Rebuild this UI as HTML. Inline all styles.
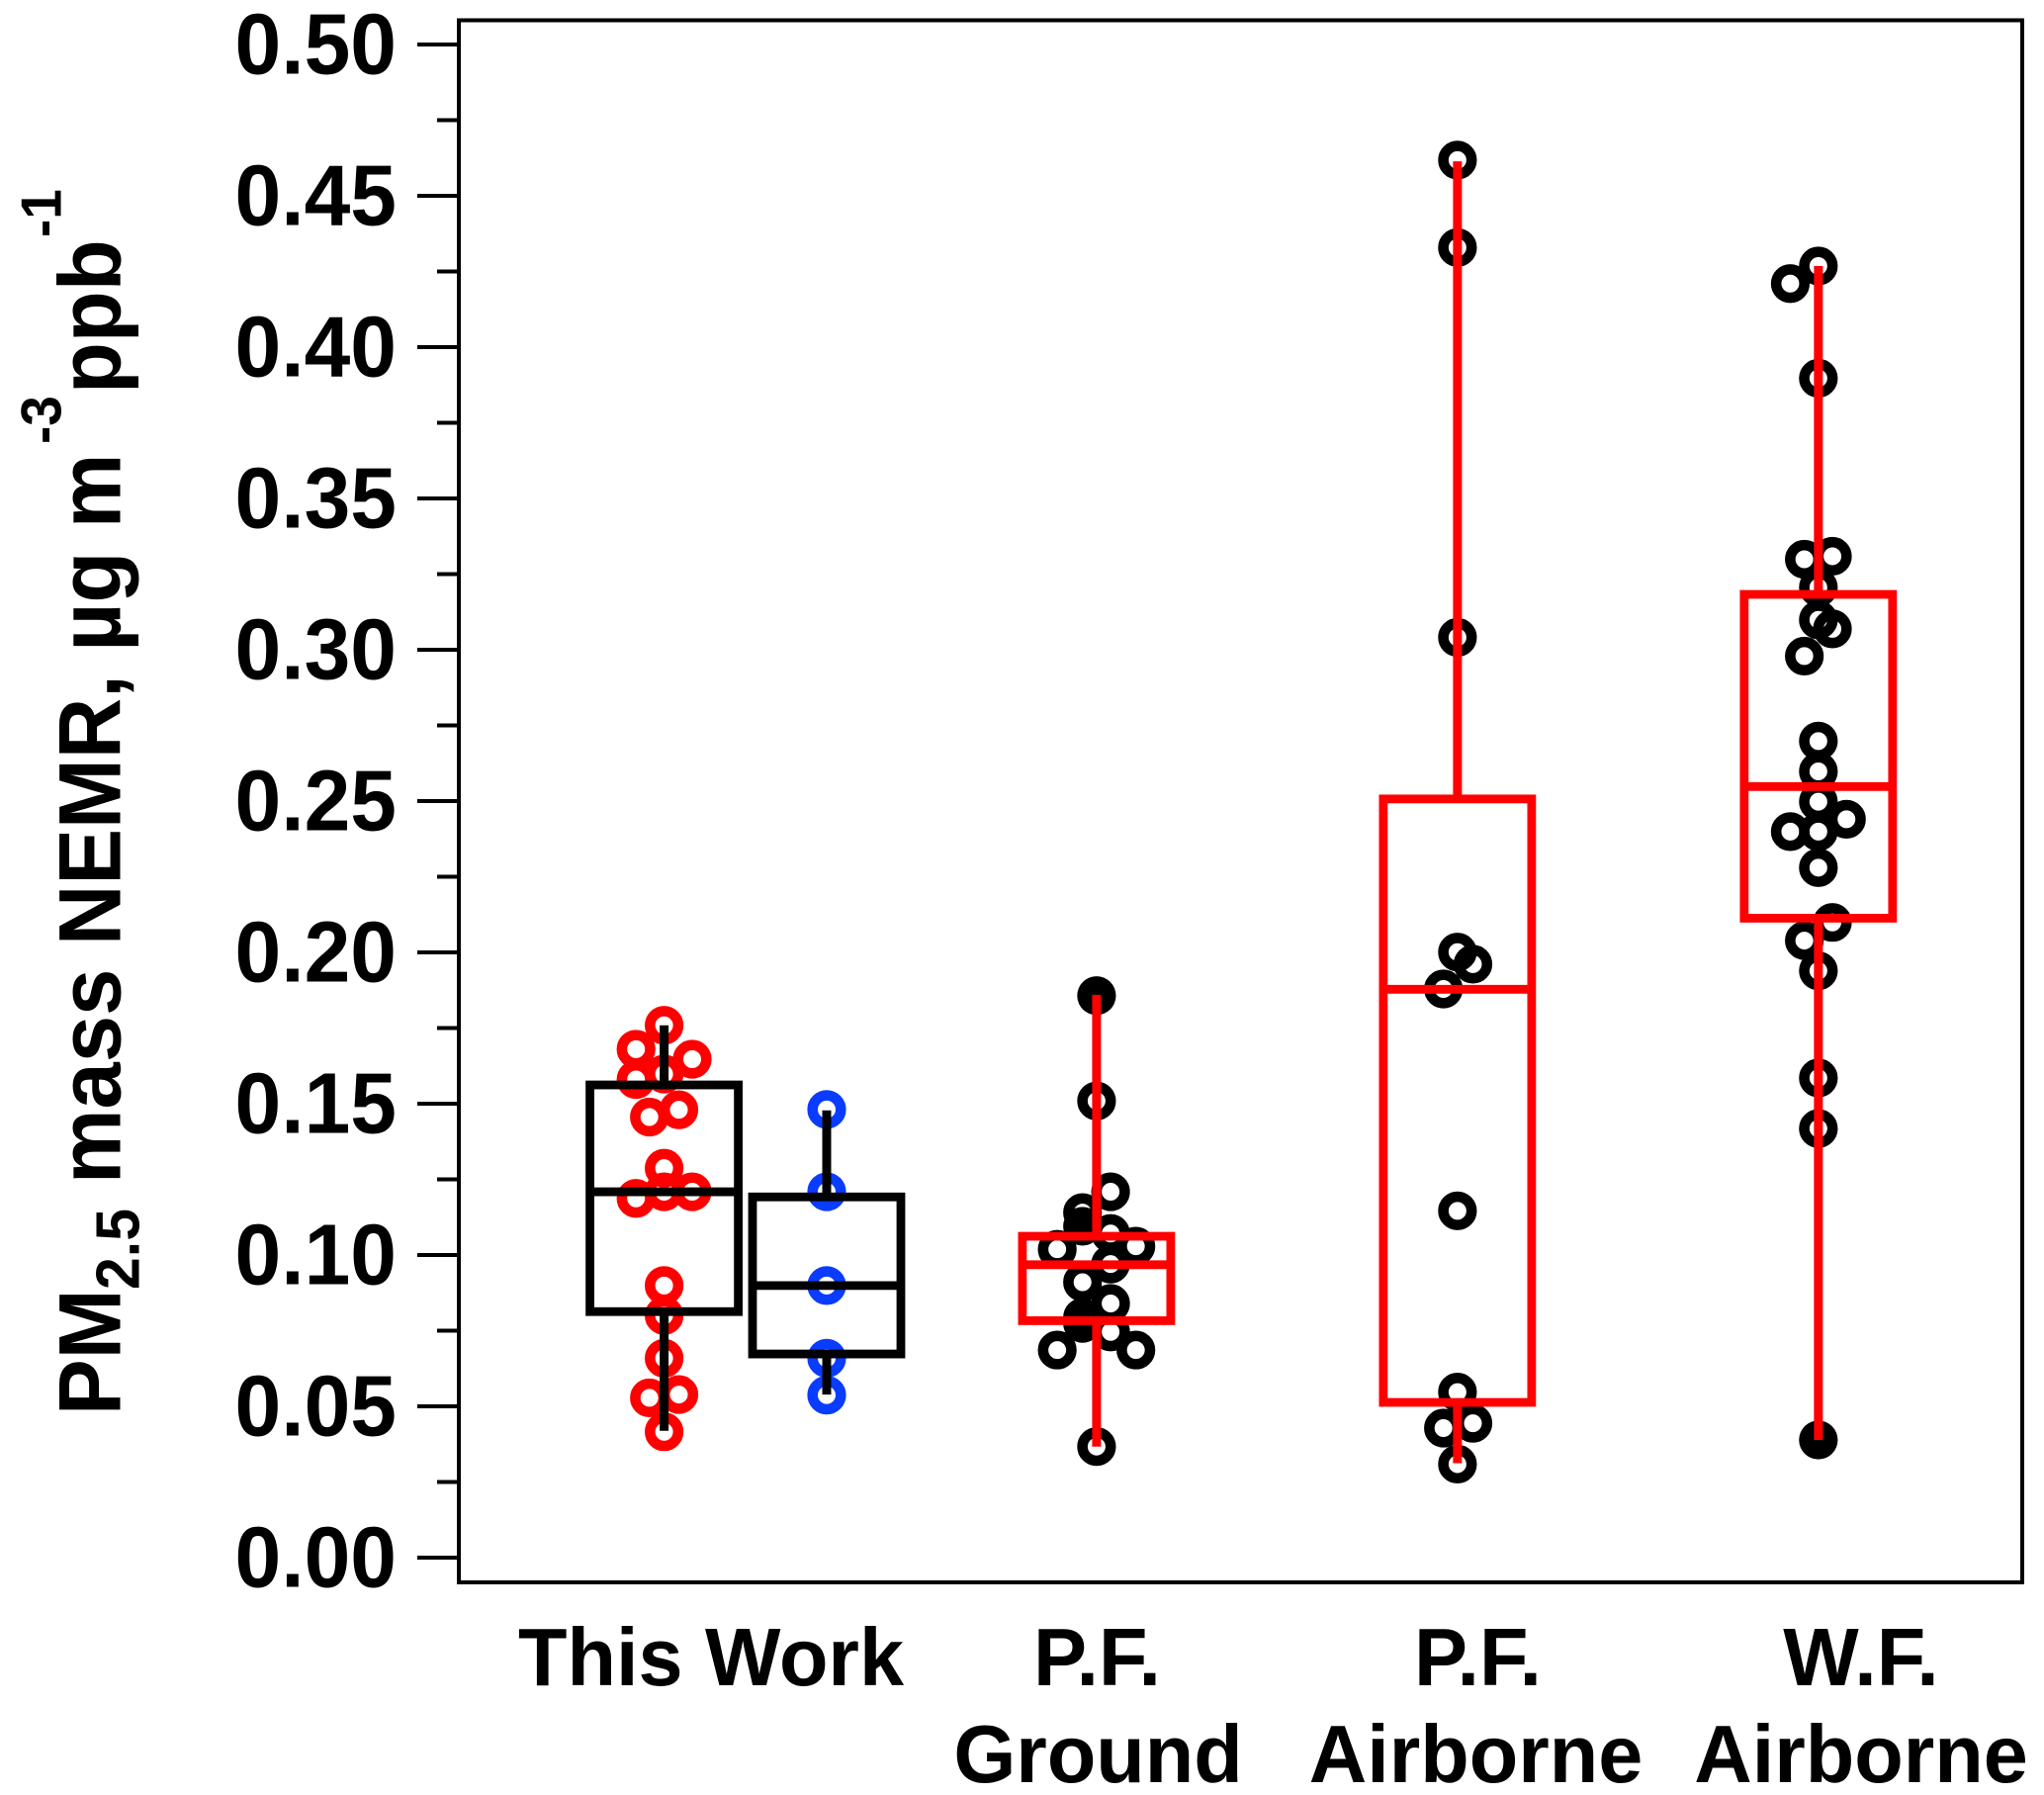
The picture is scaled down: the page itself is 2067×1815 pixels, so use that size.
<!DOCTYPE html>
<html lang="en">
<head>
<meta charset="utf-8">
<title>PM2.5 mass NEMR box plot</title>
<style>
html,body{margin:0;padding:0;background:#fff;}
svg{display:block;}
text{font-family:"Liberation Sans",sans-serif;font-weight:bold;fill:#000;}
</style>
</head>
<body>
<svg id="chart" xmlns="http://www.w3.org/2000/svg" width="2067" height="1815" viewBox="0 0 2067 1815">
  <rect x="0" y="0" width="2067" height="1815" fill="#fff"/>
  <g id="marks"></g>
  <rect x="464" y="20.5" width="1581" height="1579.5" fill="none" stroke="#000" stroke-width="4"/>
  <g id="y-axis"></g>
  <text transform="translate(121.5,1431) rotate(-90) scale(1,1.05)" font-size="85"><tspan x="0" y="0">PM</tspan><tspan x="127" y="18.3" font-size="59">2.5</tspan><tspan x="234" y="0">mass NEMR, µg m</tspan><tspan x="982" y="-57" font-size="55">-3</tspan><tspan x="1033" y="0">ppb</tspan><tspan x="1191" y="-57" font-size="55">-1</tspan></text>
  <g font-size="81" text-anchor="middle">
    <text transform="translate(719,1704) scale(1,1.02)">This Work</text>
    <text transform="translate(1109.5,1704) scale(1,1.02)">P.F.</text>
    <text transform="translate(1110.5,1802) scale(1,1.02)">Ground</text>
    <text transform="translate(1494.5,1704) scale(1,1.02)">P.F.</text>
    <text transform="translate(1492.5,1802) scale(1,1.02)">Airborne</text>
    <text transform="translate(1882,1704) scale(1,1.02)">W.F.</text>
    <text transform="translate(1882,1802) scale(1,1.02)">Airborne</text>
  </g>
</svg>
<script>
// ---- Data ----
const yTickValues = [0, 0.05, 0.10, 0.15, 0.20, 0.25, 0.30, 0.35, 0.40, 0.45, 0.50];
const yTickLabels = ["0.00", "0.05", "0.10", "0.15", "0.20", "0.25", "0.30", "0.35", "0.40", "0.45", "0.50"];
const yMinorTickValues = [0.025, 0.075, 0.125, 0.175, 0.225, 0.275, 0.325, 0.375, 0.425, 0.475];

const seriesKeys = ["this-work-red", "this-work-blue", "pf-ground", "pf-airborne", "wf-airborne"];
// location of each box on a category axis (1 unit = first-to-second box spacing)
const categoryPosition = [1, 2, 3.66, 5.88, 8.1];

const boxQ1 = [0.0813, 0.0673, 0.0783, 0.0513, 0.2113];
const boxMedian = [0.1209, 0.0899, 0.0968, 0.1878, 0.2548];
const boxQ3 = [0.1562, 0.1192, 0.1062, 0.2507, 0.3183];
const whiskerLow = [0.0419, 0.0539, 0.0367, 0.0312, 0.0389];
const whiskerHigh = [0.1759, 0.1478, 0.186, 0.4614, 0.4268];

const thisWorkRedValues = [0.1759, 0.168, 0.1647, 0.158, 0.1598, 0.148, 0.1456, 0.1287, 0.1187, 0.1209, 0.1209, 0.0899, 0.08, 0.0659, 0.0539, 0.0528, 0.0416];
const thisWorkRedSwarm = [0, -2, 2, -2, 0, 1.05, -1.05, 0, -2, 0, 2, 0, 0, 0, 1.05, -1.05, 0];

const thisWorkBlueValues = [0.1481, 0.1209, 0.0899, 0.0659, 0.0537];
const thisWorkBlueSwarm = [0, 0, 0, 0, 0];

const pfGroundValues = [0.1509, 0.1209, 0.114, 0.1071, 0.1019, 0.1029, 0.097, 0.091, 0.084, 0.0746, 0.0686, 0.0686, 0.0367];
const pfGroundSwarm = [0, 1, -1, 1, -2.8, 2.8, 1, -1, 1, 1, -2.8, 2.8, 0];
const pfGroundSolidValues = [0.1857, 0.1095, 0.0794, 0.0774];
const pfGroundSolidSwarm = [0, -1, -1, -1];

const pfAirborneValues = [0.4618, 0.4329, 0.3041, 0.2001, 0.1961, 0.1879, 0.1146, 0.0547, 0.0444, 0.0428, 0.0309];
const pfAirborneSwarm = [0, 0, 0, 0, 1.1, -1, 0, 0, 1.1, -1, 0];

const wfAirborneValues = [0.4268, 0.421, 0.3897, 0.3309, 0.3299, 0.3206, 0.3099, 0.3069, 0.2979, 0.2698, 0.2598, 0.2498, 0.244, 0.2399, 0.2399, 0.228, 0.2099, 0.2039, 0.1939, 0.1585, 0.1418];
const wfAirborneSwarm = [0, -2, 0, 1, -1, 0, 0, 1, -1, 0, 0, 0, 2, -2, 0, 0, 1, -1, 0, 0, 0];
const wfAirborneSolidValues = [0.0389];
const wfAirborneSolidSwarm = [0];

// ---- Axis functions ----
function yScale(v) { return 1575 - v * 3060; }
function xScale(p) { return 671.6 + (p - 1) * 164.4; }
function swarmOffset(s) { return s * 14.2; }

const NS = "http://www.w3.org/2000/svg";
function makeSvg(tag, attrs, parent) {
  const node = document.createElementNS(NS, tag);
  for (const k in attrs) node.setAttribute(k, attrs[k]);
  parent.appendChild(node);
  return node;
}

const RED = "#ff0000", BLUE = "#0a3cff", BLACK = "#000000";
const marks = document.getElementById("marks");
const yAxis = document.getElementById("y-axis");

// ---- Y axis ----
yTickValues.forEach(function (v, i) {
  const tick = makeSvg("line", { x1: 422, x2: 464, y1: yScale(v), y2: yScale(v), stroke: BLACK, "stroke-width": 4 }, yAxis);
  
  
  const label = makeSvg("text", { transform: "translate(401," + (yScale(v) + 29.5) + ") scale(1,1.04)", "text-anchor": "end", "font-size": 84 }, yAxis);
  
  
  label.textContent = yTickLabels[i];
});
yMinorTickValues.forEach(function (v) {
  const tick = makeSvg("line", { x1: 442, x2: 464, y1: yScale(v), y2: yScale(v), stroke: BLACK, "stroke-width": 4 }, yAxis);
  
  
});

// ---- Points ----
function drawRings(values, swarm, seriesIndex, color) {
  values.forEach(function (v, i) {
    const c = makeSvg("circle", {
      cx: xScale(categoryPosition[seriesIndex]) + swarmOffset(swarm[i]),
      cy: yScale(v), r: 14.3, fill: "none", stroke: color, "stroke-width": 10.6
    }, marks);
    
    
  });
}
function drawSolids(values, swarm, seriesIndex, color) {
  values.forEach(function (v, i) {
    const c = makeSvg("circle", {
      cx: xScale(categoryPosition[seriesIndex]) + swarmOffset(swarm[i]),
      cy: yScale(v), r: 19.6, fill: color
    }, marks);
    
    
  });
}
drawRings(thisWorkRedValues, thisWorkRedSwarm, 0, RED);
drawRings(thisWorkBlueValues, thisWorkBlueSwarm, 1, BLUE);
drawSolids(pfGroundSolidValues, pfGroundSolidSwarm, 2, BLACK);
drawRings(pfGroundValues, pfGroundSwarm, 2, BLACK);
drawRings(pfAirborneValues, pfAirborneSwarm, 3, BLACK);
drawSolids(wfAirborneSolidValues, wfAirborneSolidSwarm, 4, BLACK);
drawRings(wfAirborneValues, wfAirborneSwarm, 4, BLACK);

// ---- Boxes and whiskers ----
const boxStroke = [BLACK, BLACK, RED, RED, RED];
seriesKeys.forEach(function (key, i) {
  const cx = xScale(categoryPosition[i]);
  const halfWidth = 75;
  const group = makeSvg("g", { stroke: boxStroke[i], fill: "none" }, marks);
  
  

  const upper = makeSvg("line", { x1: cx, x2: cx, y1: yScale(boxQ3[i]), y2: yScale(whiskerHigh[i]), "stroke-width": 9 }, group);
  
  

  const lower = makeSvg("line", { x1: cx, x2: cx, y1: yScale(boxQ1[i]), y2: yScale(whiskerLow[i]), "stroke-width": 9 }, group);
  
  

  const rect = makeSvg("rect", {
    x: cx - halfWidth, y: yScale(boxQ3[i]), width: halfWidth * 2,
    height: yScale(boxQ1[i]) - yScale(boxQ3[i]), "stroke-width": 8.8
  }, group);
  
  

  const median = makeSvg("line", { x1: cx - halfWidth, x2: cx + halfWidth, y1: yScale(boxMedian[i]), y2: yScale(boxMedian[i]), "stroke-width": 8.8 }, group);
  
  
});
</script>
</body>
</html>
